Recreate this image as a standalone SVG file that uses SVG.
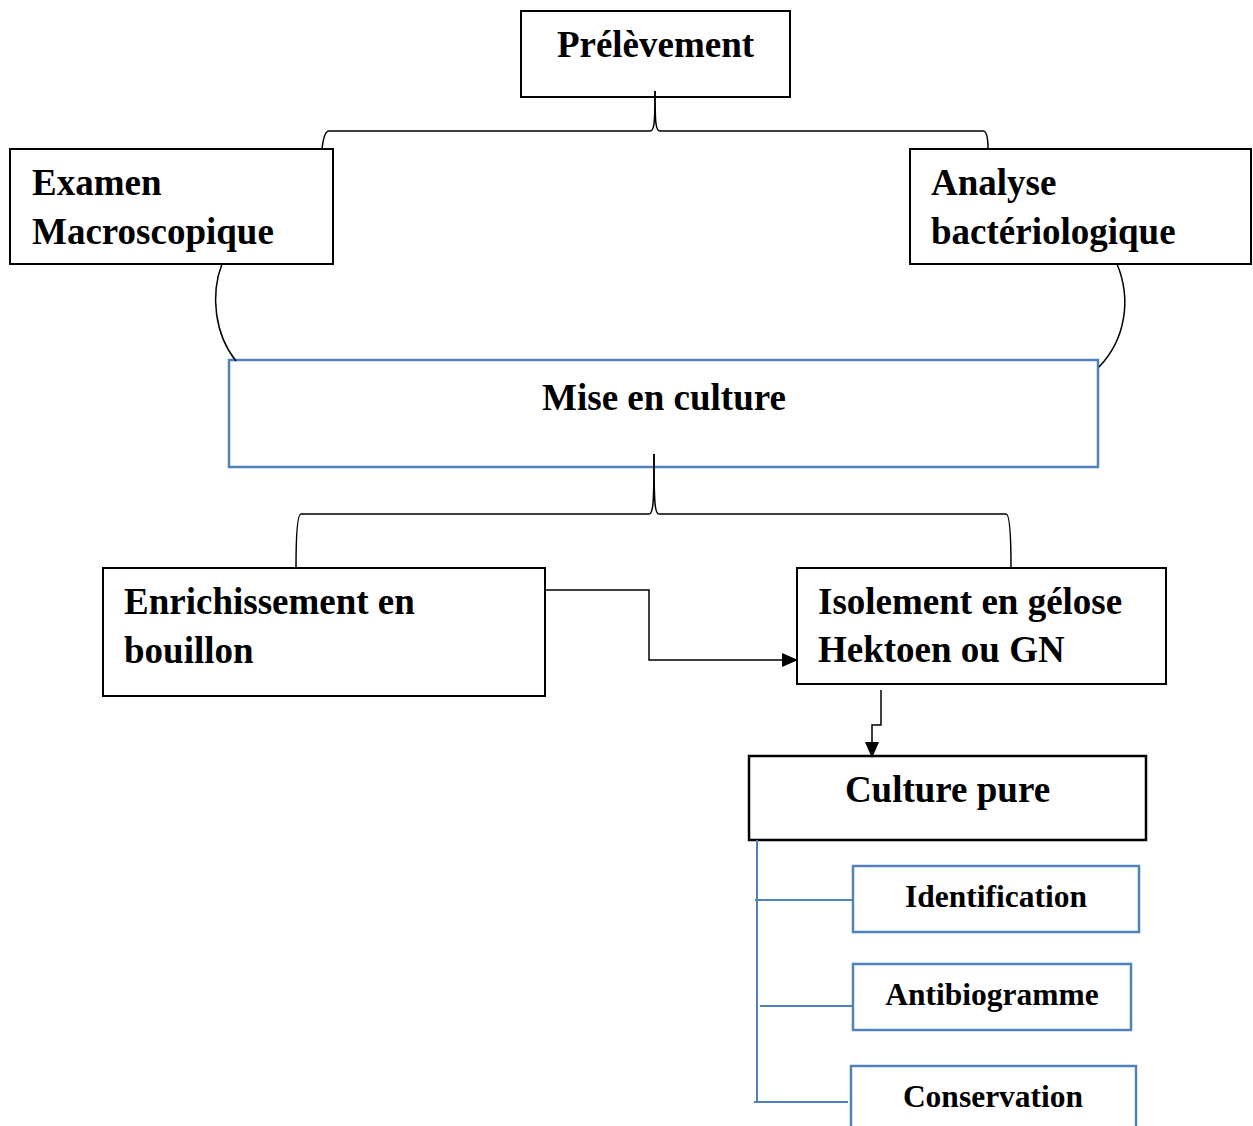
<svg xmlns="http://www.w3.org/2000/svg" width="1253" height="1126" viewBox="0 0 1253 1126">
<defs>
<style>
.bk{fill:#fff;stroke:#000;stroke-width:2}
.bl{fill:#fff;stroke:#4f81bd;stroke-width:2.5}
.t{font-family:"Liberation Serif","Times New Roman",serif;font-weight:bold;font-size:37px;fill:#000}
.s{font-family:"Liberation Serif","Times New Roman",serif;font-weight:bold;font-size:31.5px;fill:#000}
.c{fill:none;stroke:#000;stroke-width:1.5}
.cb{fill:none;stroke:#4f81bd;stroke-width:2}
</style>
<marker id="ah" markerWidth="16" markerHeight="14" refX="15" refY="7" orient="auto" markerUnits="userSpaceOnUse">
<path d="M0,0 L16,7 L0,14 z" fill="#000"/>
</marker>
</defs>
<rect width="1253" height="1126" fill="#fff"/>
<g id="prelevement">
<rect class="bk" x="521" y="11" width="269" height="86"/>
<text class="t" x="655.5" y="57" text-anchor="middle">Prélèvement</text>
</g>
<g id="examen">
<rect class="bk" x="10" y="149" width="323" height="115"/>
<text class="t" x="32" y="195">Examen</text>
<text class="t" x="32" y="244">Macroscopique</text>
</g>
<g id="analyse">
<rect class="bk" x="910" y="149" width="341" height="115"/>
<text class="t" x="931" y="195">Analyse</text>
<text class="t" x="931" y="244">bactériologique</text>
</g>
<g id="mise">
<rect class="bl" x="229" y="360" width="869" height="107"/>
<text class="t" x="664" y="410" text-anchor="middle">Mise en culture</text>
</g>
<g id="enrichissement">
<rect class="bk" x="103" y="568" width="442" height="128"/>
<text class="t" x="124" y="614">Enrichissement en</text>
<text class="t" x="124" y="663">bouillon</text>
</g>
<g id="isolement">
<rect class="bk" x="797" y="568" width="369" height="116"/>
<text class="t" x="818" y="614">Isolement en gélose</text>
<text class="t" x="818" y="662">Hektoen ou GN</text>
</g>
<g id="culture">
<rect class="bk" x="749" y="756" width="397" height="84" style="stroke-width:2.5"/>
<text class="t" x="947.5" y="802" text-anchor="middle">Culture pure</text>
</g>
<g id="identification">
<rect class="bl" x="853" y="866" width="286" height="66"/>
<text class="s" x="996" y="907" text-anchor="middle">Identification</text>
</g>
<g id="antibiogramme">
<rect class="bl" x="853" y="964" width="278" height="66"/>
<text class="s" x="992" y="1005" text-anchor="middle">Antibiogramme</text>
</g>
<g id="conservation">
<rect class="bl" x="851" y="1066" width="285" height="80"/>
<text class="s" x="993" y="1107" text-anchor="middle">Conservation</text>
</g>
<g id="connectors">
<path class="c" d="M655,91 C655,125 654,131 650,131 L329,131 C325,131 323,140 322,149"/>
<path class="c" d="M655,91 C655,125 656,131 660,131 L983,131 C987,131 988,140 988,149"/>
<path class="c" d="M222,264 C210,295 215,335 236,361"/>
<path class="c" d="M1117,264 C1132,300 1125,340 1099,367"/>
<path class="c" d="M654,454 C654,505 653,514 649,514 L301,514 C297,514 296,540 296,568"/>
<path class="c" d="M654,454 C654,505 655,514 659,514 L1006,514 C1010,514 1011,540 1011,568"/>
<path class="c" d="M545,590 L649,590 L649,660 L797,660" marker-end="url(#ah)"/>
<path class="c" d="M881,690 L881,725 L872,725 L872,757" marker-end="url(#ah)"/>
<path class="cb" d="M757,840 L757,1103"/>
<path class="cb" d="M755,900 L853,900"/>
<path class="cb" d="M760,1006 L853,1006"/>
<path class="cb" d="M754,1102 L848,1102"/>
</g>
</svg>
